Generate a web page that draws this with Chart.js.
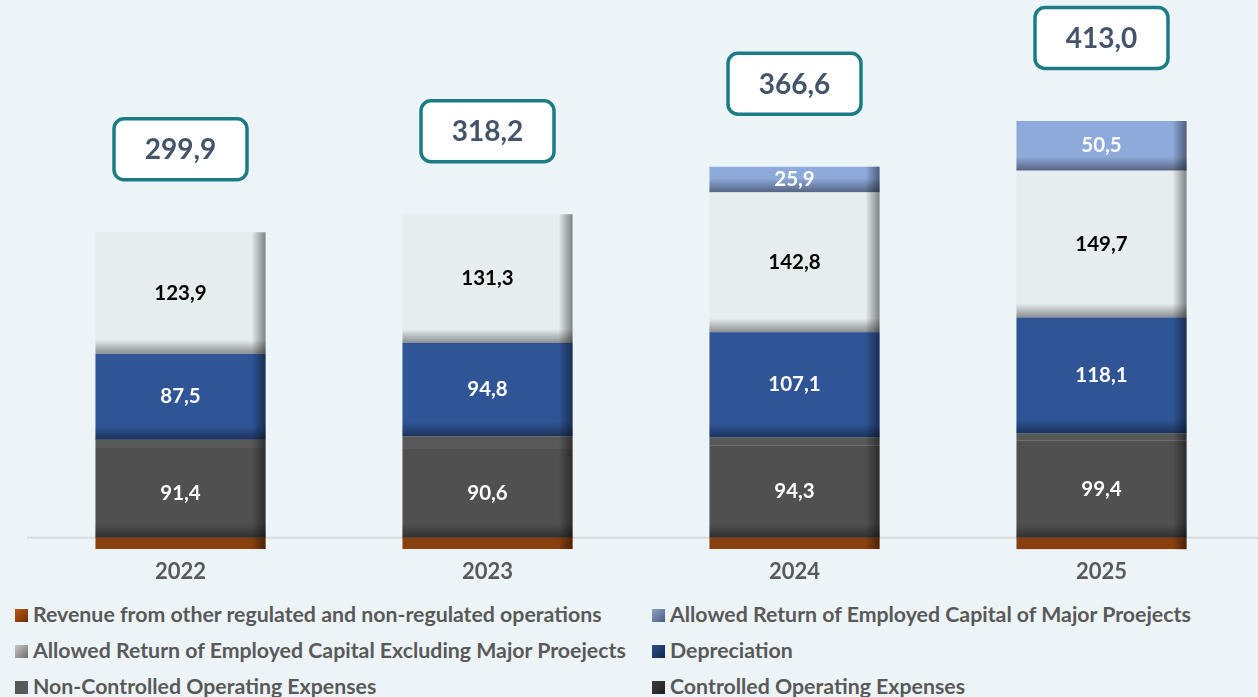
<!DOCTYPE html>
<html>
<head>
<meta charset="utf-8">
<script src="https://cdn.jsdelivr.net/npm/chart.js@4.4.1/dist/chart.umd.min.js"></script>
<style>
    html, body { margin: 0; padding: 0; background: #edf4f7; }
    body { width: 1258px; height: 697px; overflow: hidden; position: relative; font-family: Lato, "Open Sans", sans-serif; }
    #wrap { position: absolute; left: 0; top: 0; width: 1258px; height: 586px; }
    .legend { position: absolute; left: 0; top: 601px; width: 1258px; }
    .item { position: absolute; font-weight: bold; font-size: 21.3px; color: #595959; white-space: nowrap; line-height: 26px; }
    .item span.sw { display: inline-block; width: 13px; height: 13px; margin-right: 5px; vertical-align: 0px; }
</style>
</head>
<body>
<div id="wrap"><canvas id="revenueChart"></canvas></div>
<div class="legend" id="legend"></div>
<script>
// Chart data
const years = ['2022', '2023', '2024', '2025'];
const otherRevenue = [-11.4, -11.5, -11.5, -11.7];
const controlledOpex = [91.4, 90.6, 94.3, 99.4];
const nonControlledOpex = [8.5, 13.0, 8.0, 7.0];
const depreciation = [87.5, 94.8, 107.1, 118.1];
const returnExclMajor = [123.9, 131.3, 142.8, 149.7];
const returnMajor = [0, 0, 25.9, 50.5];

const fmt = v => v.toFixed(1).replace('.', ',');

// Series definitions: label, data, colour, label colour (null = no label)
const series = [
    { label: 'Revenue from other regulated and non-regulated operations', data: otherRevenue, color: '#8a3f0e', text: null },
    { label: 'Controlled Operating Expenses', data: controlledOpex, color: '#505050', text: '#ffffff' },
    { label: 'Non-Controlled Operating Expenses', data: nonControlledOpex, color: '#585858', text: null },
    { label: 'Depreciation', data: depreciation, color: '#2f5597', text: '#ffffff' },
    { label: 'Allowed Return of Employed Capital Excluding Major Proejects', data: returnExclMajor, color: '#e5edef', text: '#000000' },
    { label: 'Allowed Return of Employed Capital of Major Proejects', data: returnMajor, color: '#8eaadb', text: '#ffffff' }
];

// Legend (two columns, same order as the reference)
const legendItems = [
    { s: 0, x: 15, y: 0, sw: 'linear-gradient(135deg,#c0560f,#6e300a)' },
    { s: 5, x: 652, y: 0, sw: 'linear-gradient(135deg,#8ea3c7,#4a5c80)' },
    { s: 4, x: 15, y: 36, sw: 'linear-gradient(135deg,#c8c8c8,#6d6d6d)' },
    { s: 3, x: 652, y: 36, sw: 'linear-gradient(135deg,#2d4f8a,#13264a)' },
    { s: 2, x: 15, y: 72, sw: '#595959' },
    { s: 1, x: 652, y: 72, sw: 'linear-gradient(135deg,#3c3c3c,#1f1f1f)' }
];
const legendEl = document.getElementById('legend');
legendItems.forEach(it => {
    const d = document.createElement('div');
    d.className = 'item';
    d.style.left = it.x + 'px';
    d.style.top = it.y + 'px';
    d.innerHTML = '<span class="sw" style="background:' + it.sw + '"></span>' + series[it.s].label;
    legendEl.appendChild(d);
});

// Zero line across the plot
const zeroLinePlugin = {
    id: 'zeroLine',
    beforeDatasetsDraw(chart) {
        const ctx = chart.ctx;
        const y = chart.scales.y.getPixelForValue(0);
        ctx.save();
        ctx.strokeStyle = '#d9d9d9';
        ctx.lineWidth = 2;
        ctx.beginPath();
        ctx.moveTo(chart.chartArea.left, y);
        ctx.lineTo(chart.width, y);
        ctx.stroke();
        ctx.restore();
    }
};

// Shading on right and bottom edges, value labels and total boxes
const decoPlugin = {
    id: 'deco',
    afterDatasetsDraw(chart) {
        const ctx = chart.ctx;
        ctx.save();
        chart.data.datasets.forEach((ds, di) => {
            const meta = chart.getDatasetMeta(di);
            meta.data.forEach((bar, i) => {
                if (!ds.data[i]) return;
                const top = Math.min(bar.y, bar.base);
                const bottom = Math.max(bar.y, bar.base);
                const right = bar.x + bar.width / 2;
                const left = bar.x - bar.width / 2;
                const h = bottom - top;
                // right edge
                let g = ctx.createLinearGradient(right - 14, 0, right, 0);
                g.addColorStop(0, 'rgba(0,0,0,0)');
                g.addColorStop(1, 'rgba(0,0,0,0.45)');
                ctx.fillStyle = g;
                ctx.fillRect(right - 14, top, 14, h);
                // bottom edge
                if (h > 20) {
                    g = ctx.createLinearGradient(0, bottom - 14, 0, bottom);
                    g.addColorStop(0, 'rgba(0,0,0,0)');
                    g.addColorStop(1, 'rgba(0,0,0,0.4)');
                    ctx.fillStyle = g;
                    ctx.fillRect(left, bottom - 14, bar.width, 14);
                }
            });
        });

        // value labels
        ctx.textAlign = 'center';
        ctx.textBaseline = 'middle';
        ctx.font = 'bold 20.5px Lato, "Open Sans", sans-serif';
        chart.data.datasets.forEach((ds, di) => {
            if (!series[di].text) return;
            const meta = chart.getDatasetMeta(di);
            meta.data.forEach((bar, i) => {
                if (!ds.data[i]) return;
                ctx.fillStyle = series[di].text;
                ctx.fillText(fmt(ds.data[i]), bar.x, (bar.y + bar.base) / 2);
            });
        });

        // total boxes
        const yScale = chart.scales.y;
        years.forEach((yr, i) => {
            let total = 0, pos = 0;
            series.forEach(s => { total += s.data[i]; if (s.data[i] > 0) pos += s.data[i]; });
            const x = chart.getDatasetMeta(0).data[i].x;
            const cy = yScale.getPixelForValue(pos) - 83;
            const w = 133, hh = 61;
            ctx.beginPath();
            ctx.roundRect(x - w / 2, cy - hh / 2, w, hh, 10);
            ctx.fillStyle = '#ffffff';
            ctx.fill();
            ctx.lineWidth = 3.5;
            ctx.strokeStyle = '#1c7c86';
            ctx.stroke();
            ctx.fillStyle = '#44546a';
            ctx.font = 'bold 28px Lato, "Open Sans", sans-serif';
            ctx.fillText(fmt(total), x, cy + 1);
        });
        ctx.restore();
    }
};

const chartEl = document.getElementById('revenueChart');
chartEl.chart = new Chart(chartEl, {
    type: 'bar',
    data: {
        labels: years,
        datasets: series.map(s => ({
            label: s.label,
            data: s.data,
            backgroundColor: s.color,
            borderWidth: 0,
            categoryPercentage: 1,
            barPercentage: 0.554
        }))
    },
    options: {
        responsive: true,
        maintainAspectRatio: false,
        animation: false,
        layout: { padding: { left: 27, right: 3, top: 0, bottom: 0 } },
        scales: {
            x: {
                stacked: true,
                grid: { display: false },
                border: { display: false },
                ticks: {
                    color: '#595959',
                    padding: 1,
                    font: { family: 'Lato, "Open Sans", sans-serif', size: 22, weight: 'bold' }
                }
            },
            y: {
                stacked: true,
                display: false,
                min: -12,
                max: 548
            }
        },
        plugins: {
            legend: { display: false },
            tooltip: { enabled: false }
        }
    },
    plugins: [zeroLinePlugin, decoPlugin]
});
</script>
</body>
</html>
